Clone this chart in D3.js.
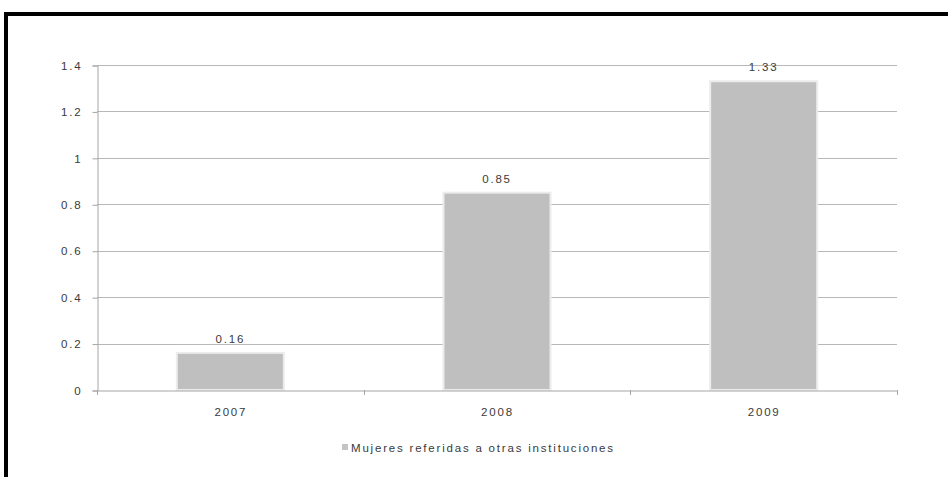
<!DOCTYPE html>
<html><head><meta charset="utf-8">
<script src="https://cdn.jsdelivr.net/npm/d3@7"></script>
<style>body{margin:0;background:#fff;} svg{display:block;} text{font-family:"Liberation Sans",Arial,sans-serif;}</style>
</head><body>
<svg id="c" width="948" height="477"></svg>
<script>
const categories = ["2007","2008","2009"];
const values = [0.16, 0.85, 1.33];
const valueLabels = ["0.16","0.85","1.33"];
const yTicks = [0,0.2,0.4,0.6,0.8,1,1.2,1.4];
const seriesName = "Mujeres referidas a otras instituciones";

(function(){
const svg = d3.select("#c");
const FS = "11.5px", LS = "1.8px", TC = "#3a3a3a";
svg.append("rect").attr("x",0).attr("y",0).attr("width",948).attr("height",477).attr("fill","#fff");
svg.append("path").attr("d","M6,477 V14 H948").attr("fill","none").attr("stroke","#000").attr("stroke-width",4);

const pL=97, pR=897, pT=65, pB=390;
const x = d3.scaleBand().domain(categories).range([pL,pR]).paddingInner(0).paddingOuter(0);
const y = d3.scaleLinear().domain([0,1.4]).range([pB,pT]);

svg.append("g").selectAll("line").data(yTicks.filter(d=>d>0)).join("line")
  .attr("x1",pL).attr("x2",pR).attr("y1",d=>Math.round(y(d))+0.5).attr("y2",d=>Math.round(y(d))+0.5)
  .attr("stroke","#b8b8b8").attr("stroke-width",1);

const ya = svg.append("g").attr("transform",`translate(${pL+0.5},0.5)`)
  .call(d3.axisLeft(y).tickValues(yTicks).tickFormat(d=>String(d)).tickSize(5).tickPadding(10));
ya.select(".domain").attr("stroke","#a6a6a6");
ya.selectAll(".tick line").attr("stroke","#a6a6a6");
ya.selectAll(".tick text").attr("fill",TC).style("font-size",FS).style("letter-spacing",LS).style("font-family","'Liberation Sans',Arial,sans-serif");

const bw = 107;
svg.append("g").selectAll("rect").data(values).join("rect")
  .attr("x",(d,i)=>x(categories[i])+x.bandwidth()/2-bw/2)
  .attr("y",d=>y(d))
  .attr("width",bw)
  .attr("height",d=>pB-y(d))
  .attr("fill","#bfbfbf").attr("stroke","#ececec").attr("stroke-width",2);

const xa = svg.append("g").attr("transform",`translate(0.5,${pB+0.5})`)
  .call(d3.axisBottom(x).tickSize(0).tickPadding(17));
xa.select(".domain").attr("stroke","#a6a6a6");
xa.selectAll(".tick text").attr("fill",TC).style("font-size",FS).style("letter-spacing",LS).style("font-family","'Liberation Sans',Arial,sans-serif");
const bounds = categories.map(c=>x(c)).concat([pR]);
svg.append("g").selectAll("line").data(bounds).join("line")
  .attr("x1",d=>Math.round(d)+0.5).attr("x2",d=>Math.round(d)+0.5)
  .attr("y1",pB).attr("y2",pB+5).attr("stroke","#a6a6a6");

svg.append("g").selectAll("text").data(values).join("text")
  .attr("x",(d,i)=>x(categories[i])+x.bandwidth()/2)
  .attr("y",d=>y(d)-10)
  .attr("text-anchor","middle").attr("fill",TC).style("font-size",FS).style("letter-spacing",LS)
  .text((d,i)=>valueLabels[i]);

const lg = svg.append("g").attr("transform","translate(342,444)");
lg.append("rect").attr("x",0).attr("y",0).attr("width",6).attr("height",6).attr("fill","#c4c4c4");
lg.append("text").attr("x",9).attr("y",8).attr("fill",TC).style("font-size",FS).style("letter-spacing",LS).text(seriesName);
})();
</script>
</body></html>
